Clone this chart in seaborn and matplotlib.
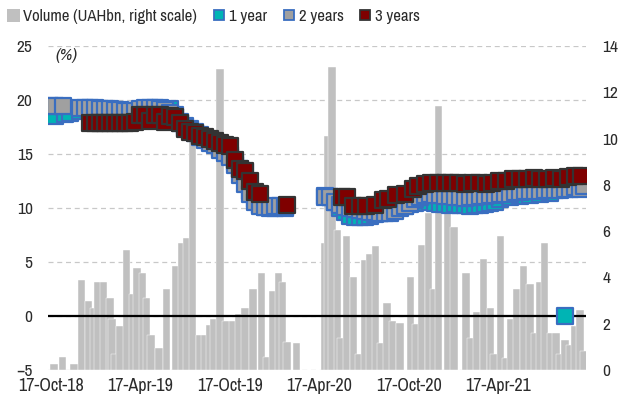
import pandas as pd
import matplotlib
matplotlib.use('Agg')
import matplotlib.pyplot as plt
import matplotlib.dates as mdates
from matplotlib.patches import Patch
from matplotlib.lines import Line2D
import seaborn as sns

# auction volume, UAH bn (right scale)
vol_dates = ['2018-10-22', '2018-11-09', '2018-12-02', '2018-12-18', '2019-01-01', '2019-01-12',
             '2019-01-20', '2019-02-01', '2019-02-14', '2019-02-18', '2019-02-24', '2019-03-06',
             '2019-03-20', '2019-04-01', '2019-04-10', '2019-04-21', '2019-04-29', '2019-05-09',
             '2019-05-25', '2019-06-10', '2019-06-29', '2019-07-11', '2019-07-21', '2019-08-02',
             '2019-08-17', '2019-08-27', '2019-09-06', '2019-09-14', '2019-09-27', '2019-10-09',
             '2019-10-23', '2019-11-04', '2019-11-17', '2019-12-03', '2019-12-20', '2019-12-31',
             '2020-01-13', '2020-01-24', '2020-02-02', '2020-02-11', '2020-03-01', '2020-04-27',
             '2020-05-04', '2020-05-13', '2020-05-24', '2020-05-31', '2020-06-11', '2020-06-26',
             '2020-07-07', '2020-07-18', '2020-07-28', '2020-08-10', '2020-08-20', '2020-09-02',
             '2020-09-13', '2020-09-29', '2020-10-21', '2020-10-31', '2020-11-12', '2020-11-26',
             '2020-12-06', '2020-12-17', '2021-01-04', '2021-01-17', '2021-02-11', '2021-02-21',
             '2021-03-04', '2021-03-19', '2021-04-02', '2021-04-09', '2021-04-23', '2021-05-03',
             '2021-05-13', '2021-05-25', '2021-06-08', '2021-06-22', '2021-07-02', '2021-07-12',
             '2021-07-22', '2021-08-03', '2021-08-14', '2021-08-22', '2021-09-01', '2021-09-10',
             '2021-09-22', '2021-10-02', '2021-10-10']
vol_values = [0.26, 0.56, 0.26, 3.9, 3.0, 2.7,
              3.8, 3.8, 3.1, 2.2, 0.7, 1.9,
              5.2, 3.3, 4.4, 4.2, 3.1, 1.5,
              0.95, 3.5, 4.5, 5.5, 5.7, 9.9,
              1.5, 1.5, 1.95, 2.2, 13.0, 2.1,
              2.1, 2.4, 2.7, 3.5, 4.2, 0.56,
              3.4, 4.2, 3.8, 1.2, 1.15, 5.5,
              10.1, 13.1, 6.05, 1.4, 5.8, 4.0,
              0.7, 4.75, 5.0, 5.35, 1.15, 2.9,
              2.1, 2.05, 4.0, 2.0, 5.4, 6.8,
              3.5, 11.4, 7.6, 6.2, 4.2, 1.4,
              2.5, 4.8, 2.7, 0.7, 5.8, 0.5,
              2.2, 3.5, 4.5, 3.7, 1.6, 3.8,
              5.5, 1.6, 1.6, 0.7, 1.3, 1.1,
              1.9, 2.6, 0.8]

# 1 year yields, %
y1_dates = ['2018-10-24', '2018-11-14', '2018-11-24', '2018-12-14', '2019-01-04', '2019-01-24',
            '2019-02-14', '2019-03-06', '2019-03-27', '2019-04-16', '2019-05-06', '2019-05-27',
            '2019-06-16', '2019-06-27', '2019-07-07', '2019-07-17', '2019-07-27', '2019-08-06',
            '2019-08-17', '2019-08-27', '2019-09-06', '2019-09-16', '2019-09-27', '2019-10-07',
            '2019-10-17', '2019-10-27', '2019-11-06', '2019-11-17', '2019-11-27', '2019-12-07',
            '2019-12-17', '2019-12-28', '2020-01-07', '2020-01-17', '2020-01-27', '2020-02-06',
            '2020-04-28', '2020-05-08', '2020-05-19', '2020-05-29', '2020-06-08', '2020-06-18',
            '2020-06-29', '2020-07-09', '2020-07-19', '2020-07-29', '2020-08-09', '2020-08-19',
            '2020-08-29', '2020-09-08', '2020-09-18', '2020-09-29', '2020-10-09', '2020-10-19',
            '2020-10-29', '2020-11-09', '2020-11-19', '2020-11-29', '2020-12-09', '2020-12-20',
            '2020-12-30', '2021-01-09', '2021-01-19', '2021-01-29', '2021-02-09', '2021-02-19',
            '2021-03-01', '2021-03-11', '2021-03-22', '2021-04-01', '2021-04-11', '2021-04-21',
            '2021-05-12', '2021-06-01', '2021-06-21', '2021-07-12', '2021-08-01', '2021-09-01']
y1_values = [18.5, 18.7, 18.8, 19.0, 19.0, 19.0,
             19.1, 19.0, 19.0, 19.0, 19.2, 19.3,
             19.2, 18.6, 18.0, 17.6, 17.3, 17.0,
             16.8, 16.5, 16.2, 16.0, 15.6, 15.3,
             14.9, 14.3, 13.6, 13.3, 11.6, 10.8,
             10.3, 10.1, 10.0, 10.0, 10.1, 10.0,
             11.1, 11.0, 10.6, 10.0, 9.6, 9.3,
             9.2, 9.2, 9.2, 9.3, 9.4, 9.5,
             9.6, 9.7, 9.9, 10.1, 10.2, 10.4,
             10.5, 10.7, 10.9, 10.6, 10.5, 10.4,
             10.4, 10.3, 10.4, 10.3, 10.3, 10.2,
             10.3, 10.3, 10.4, 10.5, 10.6, 10.8,
             11.0, 11.1, 11.2, 11.3, 11.4, 0.0]

# 2 years yields, %
y2_dates = ['2018-10-14', '2018-10-24', '2018-11-09', '2018-12-14', '2018-12-25', '2019-01-04',
            '2019-01-14', '2019-01-24', '2019-02-03', '2019-02-14', '2019-02-24', '2019-03-06',
            '2019-03-16', '2019-03-27', '2019-04-06', '2019-04-16', '2019-04-26', '2019-05-06',
            '2019-05-17', '2019-05-27', '2019-06-06', '2019-06-16', '2019-06-27', '2019-07-07',
            '2019-07-17', '2019-07-27', '2019-08-06', '2019-08-17', '2019-08-27', '2019-09-06',
            '2019-09-16', '2019-09-27', '2019-10-07', '2019-10-17', '2019-10-27', '2019-11-06',
            '2019-11-17', '2019-11-27', '2019-12-07', '2019-12-17', '2019-12-28', '2020-01-07',
            '2020-01-17', '2020-01-27', '2020-02-06', '2020-04-28', '2020-05-08', '2020-05-19',
            '2020-05-29', '2020-06-08', '2020-06-18', '2020-06-29', '2020-07-09', '2020-07-19',
            '2020-07-29', '2020-08-09', '2020-08-19', '2020-08-29', '2020-09-08', '2020-09-18',
            '2020-09-29', '2020-10-09', '2020-10-19', '2020-10-29', '2020-11-09', '2020-11-19',
            '2020-11-29', '2020-12-09', '2020-12-20', '2020-12-30', '2021-01-09', '2021-01-19',
            '2021-01-29', '2021-02-09', '2021-02-19', '2021-03-01', '2021-03-11', '2021-03-22',
            '2021-04-01', '2021-04-11', '2021-04-21', '2021-05-01', '2021-05-12', '2021-05-22',
            '2021-06-01', '2021-06-11', '2021-06-21', '2021-07-02', '2021-07-12', '2021-07-22',
            '2021-08-01', '2021-08-11', '2021-08-22', '2021-09-01', '2021-09-11', '2021-09-21',
            '2021-10-02', '2021-10-10']
y2_values = [19.4, 19.4, 19.4, 19.3, 19.3, 19.3,
             19.3, 19.2, 19.2, 19.2, 19.1, 19.1,
             19.0, 19.0, 19.0, 19.2, 19.3, 19.3,
             19.3, 19.2, 19.1, 18.8, 18.4, 17.9,
             17.4, 17.1, 16.9, 16.6, 16.3, 16.0,
             15.8, 15.4, 15.1, 14.7, 14.0, 13.1,
             12.2, 11.3, 10.6, 10.2, 10.1, 10.1,
             10.2, 10.2, 10.1, 11.0, 11.0, 10.6,
             10.3, 10.1, 10.0, 9.9, 9.8, 9.7,
             9.6, 9.6, 9.5, 9.5, 9.5, 9.7,
             10.0, 10.2, 10.5, 10.8, 11.0, 11.2,
             11.3, 11.2, 11.2, 11.1, 11.1, 11.0,
             11.0, 10.9, 11.0, 11.0, 11.1, 11.1,
             11.2, 11.2, 11.3, 11.3, 11.3, 11.5,
             11.5, 11.6, 11.6, 11.6, 11.6, 11.7,
             11.7, 11.7, 11.7, 11.8, 11.8, 11.9,
             11.8, 12.0]

# 3 years yields, %
y3_dates = ['2019-01-04', '2019-01-14', '2019-01-24', '2019-02-03', '2019-02-14', '2019-02-24',
            '2019-03-06', '2019-03-16', '2019-03-27', '2019-04-06', '2019-04-16', '2019-04-26',
            '2019-05-06', '2019-05-17', '2019-05-27', '2019-06-06', '2019-06-16', '2019-06-27',
            '2019-07-07', '2019-07-17', '2019-07-27', '2019-08-06', '2019-08-17', '2019-08-27',
            '2019-09-06', '2019-09-16', '2019-09-27', '2019-10-07', '2019-10-17', '2019-10-27',
            '2019-11-06', '2019-11-17', '2019-11-27', '2019-12-07', '2019-12-17', '2020-02-10',
            '2020-06-02', '2020-06-12', '2020-06-25', '2020-07-09', '2020-07-22', '2020-08-09',
            '2020-08-25', '2020-09-05', '2020-09-20', '2020-10-09', '2020-10-25', '2020-11-05',
            '2020-11-19', '2020-12-01', '2020-12-15', '2020-12-30', '2021-01-12', '2021-01-26',
            '2021-02-09', '2021-02-23', '2021-03-09', '2021-03-23', '2021-04-06', '2021-04-20',
            '2021-05-04', '2021-05-18', '2021-06-01', '2021-06-15', '2021-06-29', '2021-07-13',
            '2021-07-27', '2021-08-10', '2021-08-24', '2021-09-07', '2021-09-21', '2021-10-05']
y3_values = [17.9, 17.9, 17.9, 17.9, 17.9, 17.9,
             17.9, 17.9, 17.9, 18.0, 18.6, 18.6,
             18.1, 18.6, 18.6, 18.0, 18.5, 18.4,
             17.9, 17.3, 17.0, 16.9, 16.7, 16.6,
             16.4, 16.2, 16.0, 15.8, 15.7, 14.4,
             13.6, 13.4, 12.5, 11.5, 11.3, 10.3,
             11.0, 11.0, 10.2, 10.2, 10.2, 10.3,
             10.7, 10.8, 11.2, 11.3, 11.8, 12.0,
             12.2, 12.3, 12.3, 12.3, 12.3, 12.3,
             12.2, 12.3, 12.3, 12.2, 12.3, 12.5,
             12.5, 12.7, 12.7, 12.7, 12.8, 12.7,
             12.7, 12.8, 12.7, 12.9, 13.0, 13.0]

tick_dates = ['2018-10-17', '2019-04-17', '2019-10-17', '2020-04-17', '2020-10-17', '2021-04-17']

bar_color = '#c0c0c0'
teal = '#00b4b4'
blue_edge = '#3a6ec0'
grey_fill = '#a0a0a0'
red_fill = '#7f0000'
dark_edge = '#333333'
txt_color = '#2b2b2b'

sns.set_theme(style='white')
plt.rcParams['font.family'] = ['Archivo Narrow', 'Liberation Sans', 'DejaVu Sans']

fig = plt.figure(figsize=(6.19, 4.01), dpi=100)
ax = fig.add_axes([0.0775, 0.0773, 0.869, 0.808])
ax2 = ax.twinx()
ax3 = ax.twinx()

# volumes on the right scale, behind everything
ax2.bar(pd.to_datetime(vol_dates), vol_values, width=15, color=bar_color,
        edgecolor='white', linewidth=0.3)

# zero line and the yields
ax3.axhline(0, color='black', lw=1.6, zorder=2)
series = [
    (y1_dates, y1_values, teal, blue_edge),
    (y2_dates, y2_values, grey_fill, blue_edge),
    (y3_dates, y3_values, red_fill, dark_edge),
]
for d, v, fc, ec in series:
    sns.scatterplot(x=pd.to_datetime(d), y=v, ax=ax3, marker='s', s=125,
                    color=fc, edgecolor=ec, linewidth=1.6, zorder=3)

xmin, xmax = pd.Timestamp('2018-10-10'), pd.Timestamp('2021-10-14')
ax.set_xlim(xmin, xmax)
ax.set_ylim(-5, 25)
ax3.set_ylim(-5, 25)
ax2.set_ylim(0, 14)

ax.set_yticks(range(-5, 26, 5))
ax2.set_yticks(range(0, 15, 2))
ax.set_xticks(pd.to_datetime(tick_dates))
ax.xaxis.set_major_formatter(mdates.DateFormatter('%d-%b-%y'))

ax.grid(axis='y', color='#c8c8c8', lw=0.9, ls=(0, (4, 3)))
ax.grid(axis='x', visible=False)
for a in (ax, ax2, ax3):
    for sp in a.spines.values():
        sp.set_visible(False)
    a.set_xlabel('')
    a.set_ylabel('')

ax.tick_params(axis='x', length=0, pad=5.5, labelsize=13, colors=txt_color)
ax.tick_params(axis='y', length=0, pad=11, labelsize=12.5, colors=txt_color)
ax2.tick_params(axis='y', length=0, pad=12, labelsize=12.5, colors=txt_color)
ax2.tick_params(axis='x', labelbottom=False, length=0)

ax3.spines['bottom'].set_visible(True)
ax3.spines['bottom'].set_position(('data', 0))
ax3.spines['bottom'].set_linewidth(0)
ax3.tick_params(axis='x', direction='out', length=4, width=1.5, color='black',
                labelbottom=False, bottom=True)
ax3.yaxis.set_visible(False)

ax.text(0.013, 0.972, '(%)', transform=ax.transAxes, fontsize=12.5, style='italic',
        color=txt_color, va='center', ha='left')

handles = [
    Patch(facecolor=bar_color, edgecolor='none'),
    Line2D([], [], ls='none', marker='s', markersize=7, mfc=teal, mec=blue_edge, mew=1.3),
    Line2D([], [], ls='none', marker='s', markersize=7, mfc=grey_fill, mec=blue_edge, mew=1.3),
    Line2D([], [], ls='none', marker='s', markersize=7, mfc=red_fill, mec=dark_edge, mew=1.3),
]
labels = ['Volume (UAHbn, right scale)', '1 year', '2 years', '3 years']
fig.legend(handles, labels, loc='center left', bbox_to_anchor=(0.0, 0.958), ncol=4,
           frameon=False, fontsize=12, handlelength=0.8, handleheight=0.8,
           handletextpad=0.2, columnspacing=0.9, borderpad=0.2, borderaxespad=0.2,
           labelcolor=txt_color)

fig.savefig('out.png', dpi=100)
